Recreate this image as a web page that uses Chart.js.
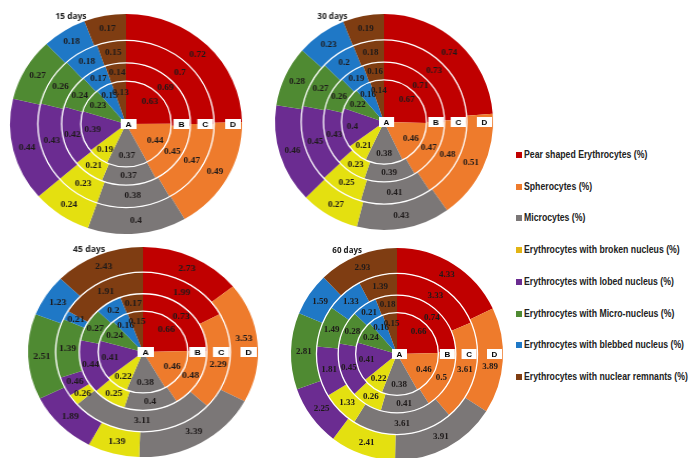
<!DOCTYPE html>
<html>
<head>
<meta charset="utf-8">
<script src="https://cdn.jsdelivr.net/npm/chart.js@4.4.1/dist/chart.umd.min.js"></script>
<style>
  html, body { margin: 0; padding: 0; background: #fff; }
  body { width: 690px; height: 458px; overflow: hidden; position: relative; }
  .pane { position: absolute; transform-origin: 50% 50%; }
  .pane canvas { display: block; }
  .legend { position: absolute; left: 516px; top: 0; width: 220px; height: 458px;
    font-family: "Liberation Sans", Arial, sans-serif;
    font-weight: bold; font-size: 10px; color: #222; white-space: nowrap; }
  .legend .item { position: absolute; left: 0; height: 12px; line-height: 12px; }
  .legend .sw { display: inline-block; width: 6px; height: 6px; margin-right: 2px; vertical-align: 0px; }
  .legend .txt { display: inline-block; transform: scaleX(0.87); transform-origin: 0 50%; }
</style>
</head>
<body>
<div class="legend" id="legend"></div>
<script>
// Cell categories, one slice per category in every ring
const categories = [
  'Pear shaped Erythrocytes (%)',
  'Spherocytes (%)',
  'Microcytes (%)',
  'Erythrocytes with broken nucleus (%)',
  'Erythrocytes with lobed nucleus (%)',
  'Erythrocytes with Micro-nucleus (%)',
  'Erythrocytes with blebbed nucleus (%)',
  'Erythrocytes with nuclear remnants (%)'
];
// Groups, drawn as rings from the centre outwards
const rings = ['A', 'B', 'C', 'D'];
const periods = ['15 days', '30 days', '45 days', '60 days'];

// Rows: groups A..D; columns follow the category order
const days15 = [
  [0.63, 0.44, 0.37, 0.19, 0.39, 0.23, 0.15, 0.13],
  [0.69, 0.45, 0.37, 0.21, 0.42, 0.24, 0.17, 0.14],
  [0.7, 0.47, 0.38, 0.23, 0.43, 0.26, 0.18, 0.15],
  [0.72, 0.49, 0.4, 0.24, 0.44, 0.27, 0.18, 0.17]
];
const days30 = [
  [0.67, 0.46, 0.38, 0.21, 0.4, 0.22, 0.16, 0.14],
  [0.71, 0.47, 0.39, 0.23, 0.43, 0.26, 0.19, 0.16],
  [0.73, 0.48, 0.41, 0.25, 0.45, 0.27, 0.2, 0.18],
  [0.74, 0.51, 0.43, 0.27, 0.46, 0.28, 0.23, 0.19]
];
const days45 = [
  [0.66, 0.46, 0.38, 0.22, 0.41, 0.24, 0.16, 0.15],
  [0.73, 0.48, 0.4, 0.25, 0.44, 0.27, 0.2, 0.17],
  [1.99, 2.29, 3.11, 0.26, 0.46, 1.39, 0.21, 1.91],
  [2.73, 3.53, 3.39, 1.39, 1.89, 2.51, 1.23, 2.43]
];
const days60 = [
  [0.66, 0.46, 0.38, 0.22, 0.41, 0.24, 0.16, 0.15],
  [0.74, 0.5, 0.41, 0.26, 0.45, 0.28, 0.21, 0.18],
  [3.33, 3.61, 3.61, 1.33, 1.81, 1.49, 1.33, 1.39],
  [4.33, 3.89, 3.91, 2.41, 2.25, 2.81, 1.59, 2.93]
];

// Slice colours per category
const sliceColors = ['#C00000', '#EE7B2C', '#7B7777', '#E4E010', '#6B2C91', '#4F8A32', '#1F78C6', '#7F3D12'];
const swatchColors = ['#C00000', '#EE7B2C', '#7B7777', '#E2B414', '#6B2C91', '#4F8A32', '#1F78C6', '#7F3D12'];

// Relative thickness of rings A..D
const ringWeight = [0.39, 0.165, 0.205, 0.24];

// Panel placement: centre and horizontal / vertical radius in page pixels
const panes = [
  { data: days15, title: periods[0], cx: 126, cy: 124, rx: 116, ry: 110 },
  { data: days30, title: periods[1], cx: 384, cy: 122, rx: 109, ry: 108 },
  { data: days45, title: periods[2], cx: 143, cy: 352, rx: 115, ry: 105 },
  { data: days60, title: periods[3], cx: 397, cy: 354, rx: 106, ry: 106 }
];

// Ring separators, value labels, ring tags and panel title
const ringDecor = {
  id: 'ringDecor',
  afterDatasetsDraw(chart, args, opts) {
    const ctx = chart.ctx;
    const metas = chart.getSortedVisibleDatasetMetas();
    ctx.save();

    ctx.strokeStyle = '#ffffff';
    ctx.lineWidth = 1.3;
    metas.forEach(meta => {
      const a = meta.data[0];
      if (a.innerRadius > 0.5) {
        ctx.beginPath();
        ctx.arc(a.x, a.y, a.innerRadius, 0, Math.PI * 2);
        ctx.stroke();
      }
    });

    // ring tag boxes along the horizontal radius
    const tagW = 15, tagH = 10;
    const tags = metas.map(meta => {
      const a = meta.data[0];
      const left = a.innerRadius > 0.5 ? a.x + a.outerRadius - tagW - 1 : a.x - 5;
      return { text: chart.data.datasets[meta.index].label, x: left, y: a.y - tagH / 2, w: tagW, h: tagH };
    });

    ctx.textAlign = 'center';
    ctx.textBaseline = 'middle';
    ctx.font = 'bold 9px "Liberation Serif", "Times New Roman", serif';
    ctx.fillStyle = '#1e1a1a';
    metas.forEach(meta => {
      const values = chart.data.datasets[meta.index].data;
      meta.data.forEach((arc, i) => {
        const mid = (arc.startAngle + arc.endAngle) / 2;
        const r = arc.innerRadius > 0.5 ? (arc.innerRadius + arc.outerRadius) / 2 : arc.outerRadius * 0.75;
        const text = String(values[i]);
        const tw = ctx.measureText(text).width;
        let lx = arc.x + r * Math.cos(mid);
        let ly = arc.y + r * Math.sin(mid);
        // keep labels clear of the tag boxes
        tags.forEach(t => {
          const hit = lx + tw / 2 > t.x && lx - tw / 2 < t.x + t.w && ly + 4 > t.y && ly - 4 < t.y + t.h;
          if (hit) ly = ly >= arc.y - 1 ? t.y + t.h + 8 : t.y - 8;
        });
        ctx.fillText(text, lx, ly);
      });
    });

    ctx.font = 'bold 8px "Liberation Sans", Arial, sans-serif';
    tags.forEach(t => {
      ctx.fillStyle = '#ffffff';
      ctx.fillRect(t.x, t.y, t.w, t.h);
      ctx.fillStyle = '#000000';
      ctx.fillText(t.text, t.x + t.w / 2, t.y + t.h / 2 + 0.5);
    });

    const outer = metas[0].data[0];
    ctx.textAlign = 'left';
    ctx.font = 'bold 8px "Open Sans", "Liberation Sans", sans-serif';
    ctx.fillStyle = '#222222';
    ctx.fillText(opts.title, outer.x - outer.outerRadius * 0.61, chart.chartArea.top + 3);
    ctx.restore();
  }
};

const M = 6;
panes.forEach(p => {
  const size = 2 * p.ry + 2 * M;
  const wrap = document.createElement('div');
  wrap.className = 'pane';
  wrap.style.left = (p.cx - p.ry - M) + 'px';
  wrap.style.top = (p.cy - p.ry - M) + 'px';
  wrap.style.width = size + 'px';
  wrap.style.height = size + 'px';
  wrap.style.transform = 'scaleX(' + (p.rx / p.ry) + ')';
  const cv = document.createElement('canvas');
  cv.width = size;
  cv.height = size;
  cv.style.width = size + 'px';
  cv.style.height = size + 'px';
  wrap.appendChild(cv);
  document.body.appendChild(wrap);

  // Chart.js puts the first dataset outermost, so list D..A
  const datasets = [3, 2, 1, 0].map(ri => ({
    label: rings[ri],
    data: p.data[ri],
    backgroundColor: sliceColors,
    borderWidth: 0,
    weight: ringWeight[ri]
  }));

  new Chart(cv, {
    type: 'doughnut',
    data: { labels: categories, datasets },
    options: {
      responsive: false,
      animation: false,
      events: [],
      cutout: 0,
      layout: { padding: M },
      plugins: {
        legend: { display: false },
        tooltip: { enabled: false },
        ringDecor: { title: p.title }
      }
    },
    plugins: [ringDecor]
  });
});

// Shared legend
const legend = document.getElementById('legend');
categories.forEach((name, i) => {
  const item = document.createElement('div');
  item.className = 'item';
  item.style.top = (149 + i * 31.7) + 'px';
  const sw = document.createElement('span');
  sw.className = 'sw';
  sw.style.background = swatchColors[i];
  const txt = document.createElement('span');
  txt.className = 'txt';
  txt.textContent = name;
  item.appendChild(sw);
  item.appendChild(txt);
  legend.appendChild(item);
});
</script>
</body>
</html>
